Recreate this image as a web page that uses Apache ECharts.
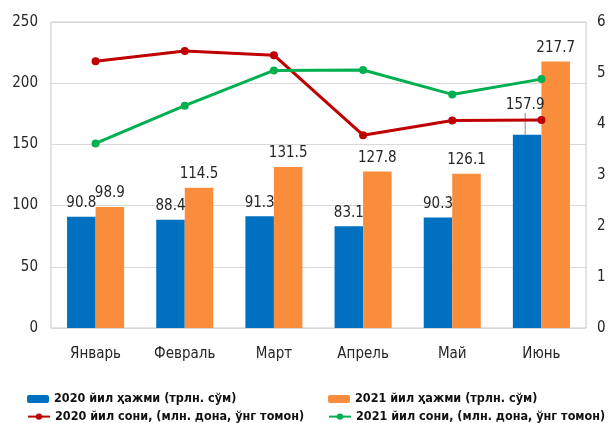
<!DOCTYPE html>
<html>
<head>
<meta charset="utf-8">
<script src="https://cdn.jsdelivr.net/npm/echarts@6/dist/echarts.min.js"></script>
<style>
html,body{margin:0;padding:0;background:#fff;}
#c{width:612px;height:423px;}
</style>
</head>
<body>
<div id="c"></div>
<script>
const categories = ['Январь', 'Февраль', 'Март', 'Апрель', 'Май', 'Июнь'];
const vol2020 = [90.8, 88.4, 91.3, 83.1, 90.3, 157.9];
const vol2021 = [98.9, 114.5, 131.5, 127.8, 126.1, 217.7];
const cnt2020 = [5.23, 5.43, 5.35, 3.78, 4.07, 4.08];
const cnt2021 = [3.62, 4.36, 5.05, 5.06, 4.58, 4.88];
const leftTicks = [0, 250, 50];
const rightTicks = [0, 6, 1];
const names = ['2020 йил ҳажми (трлн. сўм)', '2021 йил ҳажми (трлн. сўм)', '2020 йил сони, (млн. дона, ўнг томон)', '2021 йил сони, (млн. дона, ўнг томон)'];

const FONT = "'DejaVu Sans Condensed', 'Liberation Sans Narrow', sans-serif";
const chart = echarts.init(document.getElementById('c'), null, {renderer: 'canvas'});
const lbl = {show: true, position: 'top', distance: 6, fontFamily: FONT, fontSize: 15, color: '#262626'};
const legendText = {fontFamily: FONT, fontSize: 12.5, fontWeight: 'bold', color: '#111', lineHeight: 16};
function leg(name, left, top) {
  return {data: [name], left: left, top: top, itemWidth: 22, itemHeight: 8, itemGap: 2, textStyle: legendText, padding: 0};
}
const blueData = vol2020.map(function (v, i) {
  return i === 5 ? {value: v, labelLine: {show: true, lineStyle: {color: '#8c8c8c', width: 1}}} : {value: v, labelLine: {show: false}};
});
chart.setOption({
  animation: false,
  textStyle: {fontFamily: FONT},
  grid: {left: 51, right: 26, top: 22, bottom: 95, show: true, borderColor: '#C8C8C8', borderWidth: 1},
  legend: [
    leg(names[0], 27, 391), leg(names[2], 27, 408.6),
    leg(names[1], 328, 391), leg(names[3], 328, 408.6)
  ],
  xAxis: {
    type: 'category', data: categories,
    axisLine: {show: false}, axisTick: {show: false},
    axisLabel: {fontFamily: FONT, fontSize: 15, color: '#262626', margin: 19, interval: 0}
  },
  yAxis: [
    {type: 'value', min: leftTicks[0], max: leftTicks[1], interval: leftTicks[2],
     axisLine: {show: false}, axisTick: {show: false},
     splitLine: {lineStyle: {color: '#D9D9D9', width: 1}},
     axisLabel: {fontFamily: FONT, fontSize: 15, color: '#262626', margin: 13}},
    {type: 'value', min: rightTicks[0], max: rightTicks[1], interval: rightTicks[2],
     axisLine: {show: false}, axisTick: {show: false}, splitLine: {show: false},
     axisLabel: {fontFamily: FONT, fontSize: 15, color: '#262626', margin: 11}}
  ],
  series: [
    {name: names[0], type: 'bar', data: blueData, itemStyle: {color: '#0070C0'}, barGap: '0%', barCategoryGap: '36%',
     label: lbl,
     labelLayout: function (p) { return p.dataIndex === 5 ? {dx: -2, dy: -16} : {}; }},
    {name: names[1], type: 'bar', data: vol2021, itemStyle: {color: '#F98D3C'}, barGap: '0%', barCategoryGap: '36%',
     label: lbl},
    {name: names[2], type: 'line', yAxisIndex: 1, data: cnt2020, symbol: 'circle', symbolSize: 8,
     itemStyle: {color: '#C00000'}, lineStyle: {color: '#C00000', width: 3}},
    {name: names[3], type: 'line', yAxisIndex: 1, data: cnt2021, symbol: 'circle', symbolSize: 8,
     itemStyle: {color: '#00B050'}, lineStyle: {color: '#00B050', width: 3}}
  ]
});
</script>
</body>
</html>
